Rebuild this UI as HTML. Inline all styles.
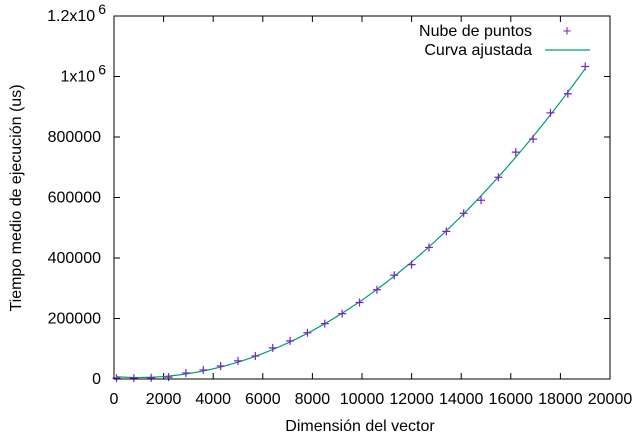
<!DOCTYPE html>
<html><head><meta charset="utf-8"><style>
html,body{margin:0;padding:0;background:#fff}
svg{display:block;font-family:"Liberation Sans",sans-serif}
</style></head><body>
<svg id="chart" width="640" height="440">
<rect x="0" y="0" width="640" height="440" fill="#fff"/>
<g id="ticks"></g>
<g id="marks"></g>
<rect x="114" y="16" width="496" height="363" fill="none" stroke="#000" stroke-width="1"/>
<text x="360" y="431" font-size="16" text-anchor="middle">Dimensión del vector</text>
<text transform="translate(21,198) rotate(-90)" font-size="16" text-anchor="middle">Tiempo medio de ejecución (us)</text>
<g>
<text x="532" y="36" font-size="16" text-anchor="end">Nube de puntos</text>
<text x="567" y="36" font-size="15" fill="#7a22c8" text-anchor="middle">+</text>
<text x="532" y="55" font-size="16" text-anchor="end">Curva ajustada</text>
<line x1="545" y1="50" x2="590" y2="50" stroke="#009e73" stroke-width="1.2"/>
</g>
</svg>
<script>
const xValues=[100,800,1500,2200,2900,3600,4300,5000,5700,6400,7100,7800,8500,9200,9900,10600,11300,12000,12700,13400,14100,14800,15500,16200,16900,17600,18300,19000];
const yValues=[3000,3000,4000,6000,20000,30000,43000,60000,76000,103000,126000,153000,183000,216000,253000,295000,343000,378000,435000,488000,548000,591000,667000,750000,793000,880000,943000,1033000];
const xTicks=[0,2000,4000,6000,8000,10000,12000,14000,16000,18000,20000];
const yTicks=[0,200000,400000,600000,800000,1000000,1200000];
const yTickLabels=["0","200000","400000","600000","800000","1x10^6","1.2x10^6"];
const X0=114,X1=610,Y0=379,Y1=16;
const sx=v=>X0+(v-0)/20000*(X1-X0);
const sy=v=>Y0-(v-0)/1200000*(Y0-Y1);
const NS="http://www.w3.org/2000/svg";
const tg=document.getElementById('ticks'),mg=document.getElementById('marks');
function mk(t,a,p){const e=document.createElementNS(NS,t);for(const k in a)e.setAttribute(k,a[k]);p.appendChild(e);return e;}
xTicks.forEach(v=>{const x=sx(v);
 let l=mk('line',{x1:x,y1:Y0,x2:x,y2:Y0-6,stroke:'#000'},tg);
 
 
 let l2=mk('line',{x1:x,y1:Y1,x2:x,y2:Y1+6,stroke:'#000'},tg);
 
 
 let t=mk('text',{x:x,y:Y0+25,'font-size':16,'text-anchor':'middle'},tg);t.textContent=v;
 
 
});
yTicks.forEach((v,i)=>{const y=sy(v);
 let l=mk('line',{x1:X0,y1:y,x2:X0+6,y2:y,stroke:'#000'},tg);
 
 
 let l2=mk('line',{x1:X1,y1:y,x2:X1-6,y2:y,stroke:'#000'},tg);
 
 
 const s=yTickLabels[i];
 let t=mk('text',{x:X0-13,y:y+5,'font-size':16,'text-anchor':'end'},tg);
 
 
 if(s.includes('^')){const [b,e]=s.split('^');
   t.setAttribute('x',X0-8);
   const a=mk('tspan',{},t);a.textContent=b;
   const c=mk('tspan',{dy:-7,'font-size':14,dx:3},t);c.textContent=e;
 } else t.textContent=s;
});
let S=[[0,0,0],[0,0,0],[0,0,0]],B=[0,0,0];
xValues.forEach((x,i)=>{const u=x/10000,f=[1,u,u*u];for(let r=0;r<3;r++){B[r]+=f[r]*yValues[i];for(let c=0;c<3;c++)S[r][c]+=f[r]*f[c];}});
function solve(A,b){const n=3;A=A.map((r,i)=>[...r,b[i]]);for(let i=0;i<n;i++){let p=i;for(let k=i+1;k<n;k++)if(Math.abs(A[k][i])>Math.abs(A[p][i]))p=k;[A[i],A[p]]=[A[p],A[i]];for(let k=i+1;k<n;k++){const f=A[k][i]/A[i][i];for(let j=i;j<=n;j++)A[k][j]-=f*A[i][j];}}const x=[0,0,0];for(let i=n-1;i>=0;i--){let s=A[i][n];for(let j=i+1;j<n;j++)s-=A[i][j]*x[j];x[i]=s/A[i][i];}return x;}
const co=solve(S,B);
let d='';const xa=xValues[0],xb=xValues[xValues.length-1];
for(let k=0;k<=200;k++){const x=xa+(xb-xa)*k/200,u=x/10000;let y=co[0]+co[1]*u+co[2]*u*u;if(y<3000)y=3000;d+=(k?'L':'M')+sx(x).toFixed(2)+','+sy(y).toFixed(2);}
const cp=mk('path',{d:d,fill:'none',stroke:'#009e73','stroke-width':1.2},mg);


xValues.forEach((x,i)=>{const px=sx(x),py=sy(yValues[i]);
 const p=mk('path',{d:`M${px-4},${py}H${px+4}M${px},${py-4}V${py+4}`,stroke:'#7a22c8','stroke-width':1.2},mg);
 
 
});
</script>
</body></html>
